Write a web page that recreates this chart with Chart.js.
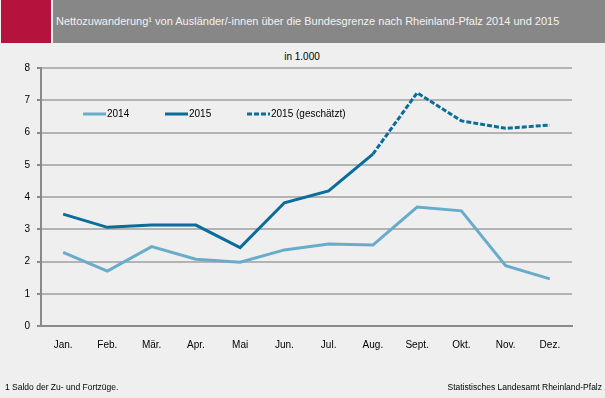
<!DOCTYPE html>
<html>
<head>
<meta charset="utf-8">
<script src="https://cdn.jsdelivr.net/npm/chart.js@4"></script>
<style>
  html, body { margin: 0; padding: 0; }
  body { width: 605px; height: 398px; background: #eeefee; position: relative; overflow: hidden;
         font-family: "Liberation Sans", Arial, sans-serif; }
  #red { position: absolute; left: 1px; top: 0; width: 50px; height: 43px; background: #b5123e; }
  #band { position: absolute; left: 53px; top: 0; width: 552px; height: 43px; background: #878787; }
  #title { position: absolute; left: 56px; top: 15px; color: #f2f2f2; font-size: 11px; white-space: nowrap; }
  #unit { position: absolute; left: 270px; width: 64px; top: 51px; text-align: center; font-size: 10px; color: #000; }
  #note { position: absolute; left: 5px; top: 382px; font-size: 8.5px; color: #000; }
  #source { position: absolute; right: 3px; top: 382px; font-size: 8.5px; color: #000; }
  #wrap { position: absolute; left: 0; top: 0; width: 605px; height: 398px; }
</style>
</head>
<body>
<div id="red"></div>
<div id="band"></div>
<div id="title">Nettozuwanderung¹ von Ausländer/-innen über die Bundesgrenze nach Rheinland-Pfalz 2014 und 2015</div>
<div id="unit">in 1.000</div>
<div id="wrap"><canvas id="chart" width="605" height="398"></canvas></div>
<div id="note">1 Saldo der Zu- und Fortzüge.</div>
<div id="source">Statistisches Landesamt Rheinland-Pfalz</div>
<script>
const months = ['Jan.', 'Feb.', 'Mär.', 'Apr.', 'Mai', 'Jun.', 'Jul.', 'Aug.', 'Sept.', 'Okt.', 'Nov.', 'Dez.'];
const values2014 = [2.28, 1.7, 2.46, 2.07, 1.98, 2.36, 2.54, 2.51, 3.69, 3.57, 1.87, 1.46];
const values2015 = [3.47, 3.06, 3.13, 3.13, 2.43, 3.82, 4.19, 5.33, null, null, null, null];
const values2015est = [null, null, null, null, null, null, null, 5.33, 7.23, 6.36, 6.13, 6.23];
const yTicks = [0, 1, 2, 3, 4, 5, 6, 7, 8];

const light = '#68acca';
const dark = '#0b6d99';

// legend drawn by hand, placed like the original
const legendPlugin = {
  id: 'handLegend',
  afterDraw(chart) {
    const c = chart.ctx;
    const y = 114;
    const items = [
      { x: 83, text: '2014', color: light, dash: [] },
      { x: 165, text: '2015', color: dark, dash: [] },
      { x: 247, text: '2015 (geschätzt)', color: dark, dash: [5, 2] }
    ];
    c.save();
    c.font = '10px "Liberation Sans", Arial, sans-serif';
    c.textBaseline = 'middle';
    items.forEach(function (it) {
      c.strokeStyle = it.color;
      c.lineWidth = 3;
      c.setLineDash(it.dash);
      c.beginPath();
      c.moveTo(it.x, y);
      c.lineTo(it.x + 23, y);
      c.stroke();
      c.setLineDash([]);
      c.fillStyle = '#000';
      c.fillText(it.text, it.x + 24, y);
    });
    c.restore();
  }
};

const ctx = document.getElementById('chart').getContext('2d');
new Chart(ctx, {
  type: 'line',
  data: {
    labels: months,
    datasets: [
      { label: '2014', data: values2014, borderColor: light, borderWidth: 3, pointRadius: 0, tension: 0 },
      { label: '2015', data: values2015, borderColor: dark, borderWidth: 3, pointRadius: 0, tension: 0 },
      { label: '2015 (geschätzt)', data: values2015est, borderColor: dark, borderWidth: 3, borderDash: [5, 2],
        pointRadius: 0, tension: 0 }
    ]
  },
  options: {
    responsive: false,
    animation: false,
    layout: { padding: { top: 68, right: 33, left: 0, bottom: 0 } },
    plugins: {
      legend: { display: false },
      tooltip: { enabled: false }
    },
    scales: {
      x: {
        offset: true,
        grid: { display: false },
        border: { display: true, color: '#8a8a8a', width: 2 },
        ticks: { color: '#000', font: { size: 10, family: '"Liberation Sans", Arial, sans-serif' }, padding: 5, maxRotation: 0 },
        afterFit: function (scale) { scale.height = 72; }
      },
      y: {
        min: 0,
        max: 8,
        afterBuildTicks: function (scale) { scale.ticks = yTicks.map(v => ({ value: v })); },
        grid: { color: '#b3b3b3', lineWidth: 2, tickLength: 4, tickColor: '#8a8a8a' },
        border: { display: true, color: '#8a8a8a', width: 2 },
        ticks: { color: '#000', font: { size: 10, family: '"Liberation Sans", Arial, sans-serif' }, padding: 7 },
        afterFit: function (scale) { scale.width = 41; }
      }
    }
  },
  plugins: [legendPlugin]
});
</script>
</body>
</html>
